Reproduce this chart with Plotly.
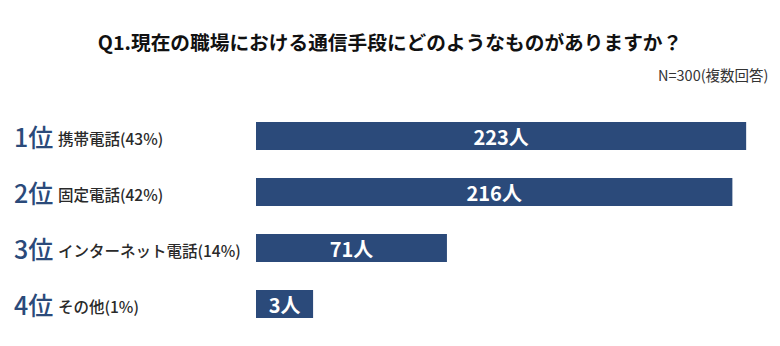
import plotly.graph_objects as go

# Survey results: communication tools used at work (N=300, multiple answers)
ranks = ["1位", "2位", "3位", "4位"]
categories = ["携帯電話(43%)", "固定電話(42%)", "インターネット電話(14%)", "その他(1%)"]
counts = [223, 216, 71, 3]
count_labels = ["223人", "216人", "71人", "3人"]

NAVY = "#2b4a7a"
FONT = "Noto Sans CJK JP"
BAR_BASE = -26  # bars start slightly left of zero so short bars can hold their label

W, H = 780, 346
ML, MR, MT, MB = 256, 24, 108, 14

fig = go.Figure(
    go.Bar(
        x=[c - BAR_BASE for c in counts],
        base=BAR_BASE,
        y=categories,
        orientation="h",
        marker=dict(color=NAVY, line=dict(width=0)),
        text=count_labels,
        textposition="inside",
        insidetextanchor="middle",
        textangle=0,
        constraintext="none",
        textfont=dict(family=FONT, size=20, color="white", weight=600),
        hoverinfo="skip",
    )
)

# Rank number and item name to the left of each bar
for rank, cat in zip(ranks, categories):
    fig.add_annotation(
        x=0.0, xref="paper", xshift=-244, y=cat, yref="y",
        text=rank, showarrow=False, xanchor="left", yanchor="middle",
        font=dict(family=FONT, size=25, color=NAVY, weight=500),
    )
    fig.add_annotation(
        x=0.0, xref="paper", xshift=-200, y=cat, yref="y", yshift=-2,
        text=cat, showarrow=False, xanchor="left", yanchor="middle",
        font=dict(family=FONT, size=15.5, color="#2a2a2a", weight=500),
    )

# Sample-size note, placed in pixels relative to the plot area
plot_w = W - ML - MR
plot_h = H - MT - MB
fig.add_annotation(
    x=(770 - ML) / plot_w, xref="paper", xanchor="right",
    y=(H - MB - 74) / plot_h, yref="paper", yanchor="middle",
    text="N=300(複数回答)", showarrow=False,
    font=dict(family=FONT, size=14.5, color="#333333"),
)

fig.update_layout(
    width=W,
    height=H,
    margin=dict(l=ML, r=MR, t=MT, b=MB),
    paper_bgcolor="white",
    plot_bgcolor="white",
    showlegend=False,
    bargap=0.5,
    title=dict(
        text="<b>Q1.現在の職場における通信手段にどのようなものがありますか？</b>",
        x=0.5, xanchor="center", xref="container",
        y=1 - 43 / H, yanchor="middle", yref="container",
        font=dict(family=FONT, size=19.7, color="#111111"),
    ),
    xaxis=dict(range=[BAR_BASE, 228], visible=False, fixedrange=True),
    yaxis=dict(
        categoryorder="array",
        categoryarray=categories[::-1],
        visible=False,
        fixedrange=True,
    ),
)

fig.write_html("out.html")
